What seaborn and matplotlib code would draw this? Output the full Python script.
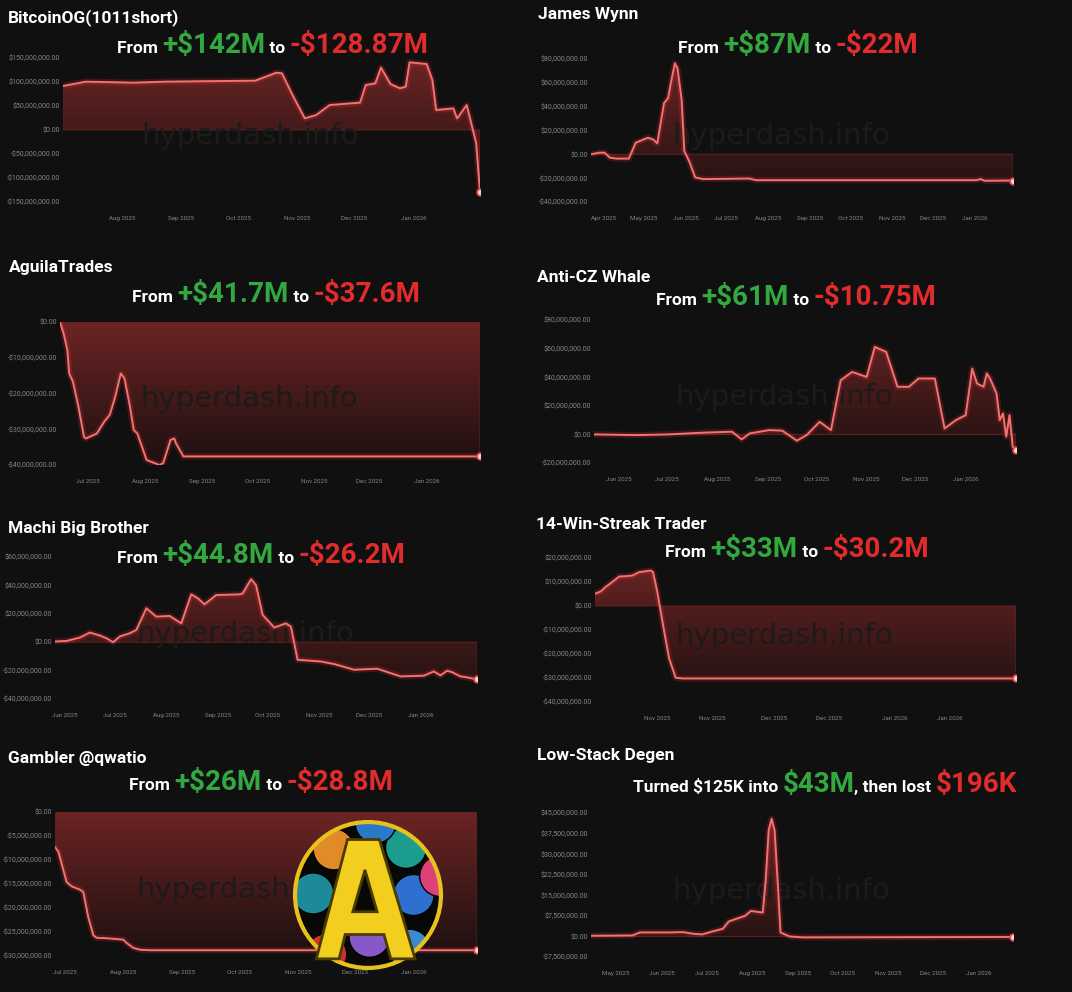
import pandas as pd
import numpy as np
import matplotlib
matplotlib.use("Agg")
import matplotlib.pyplot as plt
import matplotlib.dates as mdates
from matplotlib.colors import LinearSegmentedColormap
from matplotlib.patches import Polygon, Circle, PathPatch
from matplotlib.path import Path
import seaborn as sns

# ---- data (PnL in $M, x = days since the first point) ----
btc_start = "2025-07-01"
btc_days = [0, 12, 37, 54, 101, 112, 115, 121, 127, 133, 140, 156, 159, 164, 167, 172, 177, 180, 182, 191,
            194, 196, 205, 207, 212, 214, 217, 219]
btc_pnl = [91.7, 100.7, 98.6, 100.7, 102.8, 119.4, 118, 69.4, 24.3, 31.2, 52, 57, 93.8, 97.2, 130, 95.8, 86.8,
           90.3, 141, 137.5, 104, 41.7, 45, 24.3, 52, 20.8, -27.8, -128.87]
btc_yticks = [-150, -100, -50, 0, 50, 100, 150]
btc_xticks = ["2025-08-01", "2025-09-01", "2025-10-01", "2025-11-01", "2025-12-01", "2026-01-01"]

wynn_start = "2025-03-23"
wynn_days = [0, 6, 10, 14, 19, 28, 33, 36, 42, 46, 49, 54, 57, 59, 62, 64, 67, 69, 73, 77, 83, 117, 122, 285,
             288, 291, 312]
wynn_pnl = [0, 1.4, 1.4, -2.8, -3.6, -3.6, 9.7, 11.1, 13.9, 12.5, 9.2, 43, 47.2, 59.7, 76.4, 72.2, 45.8, 2.8,
            -6.9, -19.4, -20.8, -20.3, -21.7, -21.7, -20.8, -22.2, -22.0]
wynn_yticks = [-40, -20, 0, 20, 40, 60, 80]
wynn_xticks = ["2025-04-01", "2025-05-01", "2025-06-01", "2025-07-01", "2025-08-01", "2025-09-01",
               "2025-10-01", "2025-11-01", "2025-12-01", "2026-01-01"]

aguila_start = "2025-06-16"
aguila_days = [0, 2, 4, 5, 7, 10, 13, 14, 20, 24, 27, 30, 33, 35, 38, 40, 42, 47, 54, 56, 60, 62, 63, 67, 228]
aguila_pnl = [0, -3.3, -7.9, -14.4, -16.7, -23.7, -32.1, -32.6, -31.2, -27.9, -26.0, -20.9, -14.4, -15.8,
              -23.7, -30.2, -31.2, -38.6, -40.0, -39.5, -33.0, -32.6, -34.0, -37.6, -37.6]
aguila_yticks = [-40, -30, -20, -10, 0]
aguila_xticks = ["2025-07-01", "2025-08-01", "2025-09-01", "2025-10-01", "2025-11-01", "2025-12-01",
                 "2026-01-01"]

cz_start = "2025-05-17"
cz_days = [0, 26, 46, 67, 85, 91, 96, 108, 116, 125, 131, 139, 146, 152, 159, 168, 173, 180, 187, 194, 200,
           210, 216, 223, 229, 233, 236, 240, 242, 244, 248, 250, 252, 254, 256, 258, 260]
cz_pnl = [0, -0.5, 0, 1.2, 1.9, -3.5, 0.7, 3.0, 2.6, -4.4, -0.5, 8.8, 3.0, 37.9, 43.7, 40.2, 61.2, 57.7, 33.3,
          33.3, 39.1, 39.1, 4.2, 10.0, 13.5, 46.0, 35.6, 33.3, 42.6, 39.1, 28.6, 10.0, 14.7, -1.6, 13.5, -8.6,
          -10.75]
cz_yticks = [-20, 0, 20, 40, 60, 80]
cz_xticks = ["2025-06-01", "2025-07-01", "2025-08-01", "2025-09-01", "2025-10-01", "2025-11-01",
             "2025-12-01", "2026-01-01"]

machi_start = "2025-05-26"
machi_days = [0, 7, 15, 21, 27, 31, 35, 39, 45, 49, 55, 61, 69, 76, 82, 86, 90, 97, 111, 113, 118, 121, 125,
              132, 139, 142, 146, 160, 168, 180, 194, 208, 222, 228, 232, 236, 239, 244, 248, 254]
machi_pnl = [0.5, 0.9, 3.3, 6.8, 4.7, 2.8, 0, 4.0, 6.3, 8.7, 23.9, 18.0, 18.5, 13.3, 33.7, 30.9, 26.7, 33.2,
             33.7, 34.4, 44.4, 40.2, 19.2, 10.3, 13.3, 11.0, -12.4, -13.6, -15.4, -19.4, -18.7, -24.1, -23.6,
             -20.6, -23.4, -20.1, -21.1, -24.1, -24.8, -26.2]
machi_yticks = [-40, -20, 0, 20, 40, 60]
machi_xticks = ["2025-06-01", "2025-07-01", "2025-08-01", "2025-09-01", "2025-10-01", "2025-11-01",
                "2025-12-01", "2026-01-01"]

streak_start = "2025-10-16"
streak_days = [0, 1.5, 2.7, 4.9, 6.2, 7.9, 9.6, 11.3, 14.3, 14.9, 16.0, 17.3, 19.0, 20.7, 22.5, 108]
streak_pnl = [5.1, 6.1, 7.9, 10.6, 12.3, 12.4, 12.7, 14.1, 14.8, 14.1, 5.8, -6.6, -21.8, -29.9, -30.2, -30.2]
streak_yticks = [-40, -30, -20, -10, 0, 10, 20]
streak_xticks = ["2025-11-01", "2025-11-15", "2025-12-01", "2025-12-15", "2026-01-01", "2026-01-15"]

gambler_start = "2025-06-26"
gambler_days = [0, 1.8, 3.5, 6.1, 8.8, 13.2, 14.9, 17.5, 20.2, 21.9, 27.2, 36, 37.7, 41.2, 44.7, 50, 222]
gambler_pnl = [-7.3, -8.3, -10.8, -14.6, -15.5, -16.2, -16.7, -21.9, -25.7, -26.2, -26.3, -26.6, -27.3, -28.3,
               -28.7, -28.8, -28.8]
gambler_yticks = [-30, -25, -20, -15, -10, -5, 0]
gambler_xticks = ["2025-07-01", "2025-08-01", "2025-09-01", "2025-10-01", "2025-11-01", "2025-12-01",
                  "2026-01-01"]

degen_start = "2025-04-14"
degen_days = [0, 28, 33, 53, 62, 69, 75, 82, 89, 93, 98, 104, 108, 116, 118, 120, 122, 124, 126, 128, 134, 143,
              285]
degen_pnl = [0.24, 0.36, 1.45, 1.45, 1.57, 0.97, 0.73, 1.81, 2.78, 5.44, 6.41, 7.5, 9.3, 8.7, 20.6, 38.7, 42.9,
             38.7, 20.6, 1.45, 0, -0.36, -0.2]
degen_yticks = [-7.5, 0, 7.5, 15, 22.5, 30, 37.5, 45]
degen_xticks = ["2025-05-01", "2025-06-01", "2025-07-01", "2025-08-01", "2025-09-01", "2025-10-01",
                "2025-11-01", "2025-12-01", "2026-01-01"]

names = ["BitcoinOG(1011short)", "James Wynn", "AguilaTrades", "Anti-CZ Whale",
         "Machi Big Brother", "14-Win-Streak Trader", "Gambler @qwatio", "Low-Stack Degen"]
headlines = [
    [("From ", "w"), ("+$142M", "g"), (" to ", "w"), ("-$128.87M", "r")],
    [("From ", "w"), ("+$87M", "g"), (" to ", "w"), ("-$22M", "r")],
    [("From ", "w"), ("+$41.7M", "g"), (" to ", "w"), ("-$37.6M", "r")],
    [("From ", "w"), ("+$61M", "g"), (" to ", "w"), ("-$10.75M", "r")],
    [("From ", "w"), ("+$44.8M", "g"), (" to ", "w"), ("-$26.2M", "r")],
    [("From ", "w"), ("+$33M", "g"), (" to ", "w"), ("-$30.2M", "r")],
    [("From ", "w"), ("+$26M", "g"), (" to ", "w"), ("-$28.8M", "r")],
    [("Turned $125K into ", "w"), ("$43M", "g"), (", then lost ", "w"), ("$196K", "r")],
]

panels = [
    (btc_start, btc_days, btc_pnl, btc_yticks, btc_xticks),
    (wynn_start, wynn_days, wynn_pnl, wynn_yticks, wynn_xticks),
    (aguila_start, aguila_days, aguila_pnl, aguila_yticks, aguila_xticks),
    (cz_start, cz_days, cz_pnl, cz_yticks, cz_xticks),
    (machi_start, machi_days, machi_pnl, machi_yticks, machi_xticks),
    (streak_start, streak_days, streak_pnl, streak_yticks, streak_xticks),
    (gambler_start, gambler_days, gambler_pnl, gambler_yticks, gambler_xticks),
    (degen_start, degen_days, degen_pnl, degen_yticks, degen_xticks),
]

# ---- layout (pixels) ----
W, H = 1072, 992
boxes = [(63, 480, 58, 202), (591, 1013, 59, 202), (60, 480, 322, 465), (594, 1016, 320, 463),
         (55, 477, 557, 699), (595, 1016, 558, 702), (55, 477, 812, 956), (591, 1013, 813, 957)]
title_pos = [(8, 22), (538, 19), (9, 272), (537, 282), (8, 533), (536, 529), (8, 763), (537, 760)]
head_pos = [(273, 53), (798, 53), (276, 302), (796, 305), (261, 563), (797, 557), (261, 790), (825, 792)]

BG = "#101010"
COLORS = {"w": "#ffffff", "g": "#33a840", "r": "#e22b2b"}
SIZES = {"w": 12.5, "g": 20, "r": 20}

sns.set_theme(style="dark", rc={"axes.facecolor": BG, "figure.facecolor": BG})
plt.rcParams['font.family'] = ['Roboto', 'DejaVu Sans']

fill_cmap = LinearSegmentedColormap.from_list("fillred", ["#1c1010", "#6c2424"])
gradient = np.linspace(1, 0, 256).reshape(-1, 1)


def money(v, _):
    s = f"${abs(v) * 1e6:,.2f}"
    return "-" + s if v < 0 else s


fig = plt.figure(figsize=(W / 100, H / 100), dpi=100)
renderer = fig.canvas.get_renderer()

for i, (start, days, pnl, yticks, xticks) in enumerate(panels):
    x0, x1, yt, yb = boxes[i]
    ax = fig.add_axes([x0 / W, 1 - yb / H, (x1 - x0) / W, (yb - yt) / H])
    ax.set_facecolor(BG)

    dates = pd.Timestamp(start) + pd.to_timedelta(days, unit="D")
    df = pd.DataFrame({"date": dates, "pnl": pnl})
    xs = mdates.date2num(df["date"])

    # gradient area between line and zero
    verts = list(zip(xs, pnl)) + [(xs[-1], 0), (xs[0], 0)]
    poly = Polygon(verts, closed=True, facecolor="none", edgecolor="#5e2020", lw=0.8, zorder=2)
    ax.add_patch(poly)
    im = ax.imshow(gradient, cmap=fill_cmap, aspect="auto", zorder=1,
                   extent=[xs[0], xs[-1], yticks[0], yticks[-1]])
    im.set_clip_path(poly)

    ax.text(0.45, 0.46, "hyperdash.info", transform=ax.transAxes, ha="center", va="center",
            fontsize=21, color="#1e1a1a", zorder=2, family="DejaVu Sans")

    sns.lineplot(data=df, x="date", y="pnl", ax=ax, color="#ff3030", lw=4.5, alpha=0.2, zorder=3)
    sns.lineplot(data=df, x="date", y="pnl", ax=ax, color="#ef7474", lw=1.4, zorder=4)
    sns.scatterplot(x=[df["date"].iloc[-1]], y=[pnl[-1]], ax=ax, s=24, color="#f6d4d4",
                    edgecolor="#e04848", linewidth=1.2, zorder=5)

    ax.set_xlim(xs[0], xs[-1])
    ax.set_ylim(yticks[0], yticks[-1])
    ax.set_yticks(yticks)
    ax.yaxis.set_major_formatter(plt.FuncFormatter(money))
    ax.set_xticks(mdates.date2num(pd.to_datetime(xticks)))
    ax.xaxis.set_major_formatter(mdates.DateFormatter("%b %Y"))
    ax.tick_params(axis="y", colors="#858585", labelsize=5, length=0, pad=2)
    ax.tick_params(axis="x", colors="#858585", labelsize=4.5, length=0, pad=10)
    ax.set_xlabel("")
    ax.set_ylabel("")
    ax.grid(False)
    for s in ax.spines.values():
        s.set_visible(False)

    tx, ty = title_pos[i]
    fig.text(tx / W, 1 - ty / H, names[i], color="white", fontsize=12.5, fontweight="bold",
             va="baseline", ha="left")

    # multi-colour headline, centred
    hx, hy = head_pos[i]
    texts, widths = [], []
    for s, c in headlines[i]:
        t = fig.text(0, 1 - hy / H, s, color=COLORS[c], fontsize=SIZES[c], fontweight="bold",
                     va="baseline", ha="left")
        widths.append(t.get_window_extent(renderer).width)
        texts.append(t)
    x = hx - sum(widths) / 2
    for t, w in zip(texts, widths):
        t.set_x(x / W)
        x += w

# round "A" badge over the Gambler panel
lg = fig.add_axes([292 / W, 1 - 971 / H, 152 / W, 152 / H])
lg.set_xlim(-1, 1)
lg.set_ylim(-1, 1)
lg.set_aspect("equal")
lg.axis("off")
disc = Circle((0, 0), 0.96, facecolor="#080808", edgecolor="none", zorder=1)
lg.add_patch(disc)
coins = [(-0.45, 0.6, "#e08a2a"), (0.5, 0.62, "#1b9c8c"), (0.6, 0.0, "#2f6fd0"), (0.02, -0.55, "#8858c8"),
         (-0.55, -0.78, "#d03030"), (0.55, -0.72, "#3a8ad0"), (0.95, 0.25, "#e0407a"),
         (-0.72, 0.02, "#1d8a9a"), (0.1, 0.95, "#2a78c8")]
for cx, cy, cc in coins:
    c = Circle((cx, cy), 0.27, facecolor=cc, edgecolor="#000000", lw=1, zorder=2)
    lg.add_patch(c)
    c.set_clip_path(disc)
lg.add_patch(Circle((0, 0), 0.96, facecolor="none", edgecolor="#e8c21c", lw=3, zorder=4))
outer = [(-0.68, -0.84), (-0.27, 0.73), (0.15, 0.73), (0.62, -0.84), (0.30, -0.84), (0.21, -0.52),
         (-0.30, -0.52), (-0.38, -0.84), (-0.68, -0.84)]
hole = [(-0.20, -0.22), (0.12, -0.22), (-0.04, 0.33), (-0.20, -0.22)]
codes = [Path.MOVETO] + [Path.LINETO] * (len(outer) - 2) + [Path.CLOSEPOLY] + \
        [Path.MOVETO] + [Path.LINETO] * (len(hole) - 2) + [Path.CLOSEPOLY]
lg.add_patch(PathPatch(Path(outer + hole, codes), facecolor="#f2cf1e", edgecolor="#4a3c00", lw=2, zorder=5))

fig.savefig("out.png", dpi=100, facecolor=BG)
